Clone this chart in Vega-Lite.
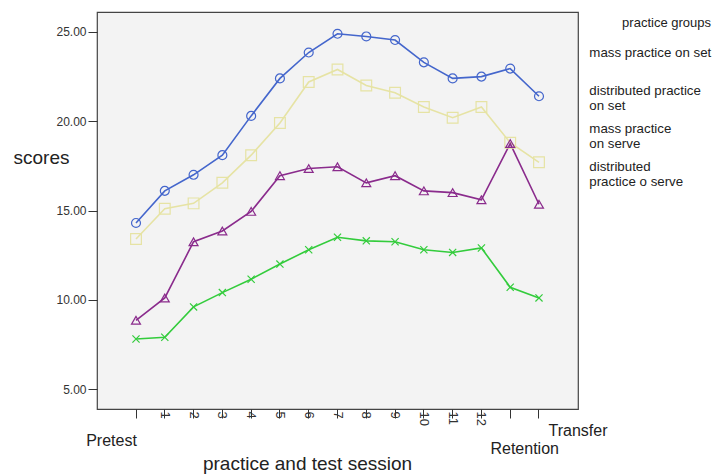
{
  "$schema": "https://vega.github.io/schema/vega-lite/v6.json",
  "width": 481,
  "height": 397,
  "autosize": {"type": "none"},
  "padding": {"left": 97, "top": 12, "right": 135, "bottom": 65},
  "background": "white",
  "config": {
    "font": "Liberation Sans",
    "view": {"fill": "#f3f3f3", "stroke": "#444444", "strokeWidth": 1.2}
  },
  "layer": [
    {
      "data": {
        "values": [
          {"session": "Pretest", "mass practice on set": 14.3, "distributed practice on set": 13.4, "mass practice on serve": 8.85, "distributed practice o serve": 7.8},
          {"session": "1", "mass practice on set": 16.1, "distributed practice on set": 15.1, "mass practice on serve": 10.1, "distributed practice o serve": 7.9},
          {"session": "2", "mass practice on set": 17.0, "distributed practice on set": 15.4, "mass practice on serve": 13.25, "distributed practice o serve": 9.6},
          {"session": "3", "mass practice on set": 18.1, "distributed practice on set": 16.55, "mass practice on serve": 13.85, "distributed practice o serve": 10.4},
          {"session": "4", "mass practice on set": 20.3, "distributed practice on set": 18.1, "mass practice on serve": 14.95, "distributed practice o serve": 11.15},
          {"session": "5", "mass practice on set": 22.4, "distributed practice on set": 19.9, "mass practice on serve": 16.95, "distributed practice o serve": 12.0},
          {"session": "6", "mass practice on set": 23.85, "distributed practice on set": 22.2, "mass practice on serve": 17.35, "distributed practice o serve": 12.8},
          {"session": "7", "mass practice on set": 24.9, "distributed practice on set": 22.9, "mass practice on serve": 17.45, "distributed practice o serve": 13.5},
          {"session": "8", "mass practice on set": 24.75, "distributed practice on set": 22.0, "mass practice on serve": 16.55, "distributed practice o serve": 13.3},
          {"session": "9", "mass practice on set": 24.55, "distributed practice on set": 21.6, "mass practice on serve": 16.95, "distributed practice o serve": 13.25},
          {"session": "10", "mass practice on set": 23.3, "distributed practice on set": 20.8, "mass practice on serve": 16.1, "distributed practice o serve": 12.8},
          {"session": "11", "mass practice on set": 22.4, "distributed practice on set": 20.2, "mass practice on serve": 16.0, "distributed practice o serve": 12.65},
          {"session": "12", "mass practice on set": 22.5, "distributed practice on set": 20.8, "mass practice on serve": 15.6, "distributed practice o serve": 12.9},
          {"session": "Retention", "mass practice on set": 22.95, "distributed practice on set": 18.8, "mass practice on serve": 18.75, "distributed practice o serve": 10.7},
          {"session": "Transfer", "mass practice on set": 21.4, "distributed practice on set": 17.7, "mass practice on serve": 15.35, "distributed practice o serve": 10.1}
        ]
      },
      "transform": [
        {"fold": ["mass practice on set", "distributed practice on set", "mass practice on serve", "distributed practice o serve"], "as": ["group", "score"]}
      ],
      "encoding": {
        "x": {
          "field": "session",
          "type": "ordinal",
          "bandPosition": 0.5,
          "scale": {"type": "band", "paddingInner": 0, "paddingOuter": 0.855, "domain": ["Pretest", "1", "2", "3", "4", "5", "6", "7", "8", "9", "10", "11", "12", "Retention", "Transfer"]},
          "axis": {
            "title": "practice and test session",
            "titleX": 210,
            "titleY": 54,
            "titleAlign": "center",
            "titleBaseline": "middle",
            "titleFontSize": 19,
            "titleFontWeight": "normal",
            "titleColor": "#222222",
            "labelAngle": 90,
            "labelAlign": "left",
            "labelBaseline": "middle",
            "labelFontSize": 13,
            "labelColor": "#333333",
            "labelPadding": -7,
            "tickSize": 9,
            "tickColor": "#333333",
            "tickBand": "center",
            "domain": false,
            "grid": false,
            "labelExpr": "indexof(['Pretest','Retention','Transfer'], datum.value) >= 0 ? '' : datum.value"
          }
        },
        "y": {
          "field": "score",
          "type": "quantitative",
          "scale": {"domain": [3.88, 26.12], "nice": false, "zero": false},
          "axis": {
            "values": [5, 10, 15, 20, 25],
            "format": ".2f",
            "title": "scores",
            "titleAngle": 0,
            "titleX": -56,
            "titleY": 145,
            "titleAlign": "center",
            "titleBaseline": "middle",
            "titleFontSize": 19,
            "titleFontWeight": "normal",
            "titleColor": "#222222",
            "labelFontSize": 12,
            "labelColor": "#333333",
            "labelPadding": 2,
            "tickSize": 9,
            "tickColor": "#333333",
            "domain": false,
            "grid": false
          }
        },
        "color": {
          "field": "group",
          "type": "nominal",
          "scale": {
            "domain": ["mass practice on set", "distributed practice on set", "mass practice on serve", "distributed practice o serve"],
            "range": ["#4466cc", "#e6e3a4", "#8a2b8c", "#33cc3c"]
          },
          "legend": {
            "orient": "none",
            "legendX": 479,
            "legendY": 5,
            "title": "practice groups",
            "titleFontSize": 13,
            "titleFontWeight": "normal",
            "titleColor": "#222222",
            "titleAnchor": "end",
            "titlePadding": 16,
            "labelFontSize": 13.3,
            "labelColor": "#222222",
            "labelLimit": 300,
            "symbolOpacity": 0,
            "symbolSize": 0,
            "symbolStrokeWidth": 0,
            "labelOffset": 0,
            "rowPadding": 8,
            "labelExpr": "datum.label == 'mass practice on set' ? ['mass practice on set', ''] : datum.label == 'distributed practice on set' ? ['distributed practice', 'on set'] : datum.label == 'mass practice on serve' ? ['\u00a0mass practice', '\u00a0on serve'] : datum.label == 'distributed practice o serve' ? ['distributed', 'practice o serve'] : datum.label"
          }
        }
      },
      "layer": [
        {"mark": {"type": "line", "strokeWidth": 1.6}},
        {
          "mark": {"type": "point", "filled": false, "strokeWidth": 1.2, "opacity": 1, "size": 80},
          "encoding": {
            "shape": {
              "field": "group",
              "type": "nominal",
              "scale": {
                "domain": ["mass practice on set", "distributed practice on set", "mass practice on serve", "distributed practice o serve"],
                "range": ["circle", "M-1.2,-1.2H1.2V1.2H-1.2Z", "triangle-up", "M-0.8,-0.8L0.8,0.8M-0.8,0.8L0.8,-0.8"]
              },
              "legend": null
            }
          }
        }
      ]
    },
    {
      "data": {"values": [{"session": "Pretest", "label": "Pretest"}]},
      "mark": {"type": "text", "dx": -24.5, "dy": 32, "fontSize": 16, "color": "#222222", "align": "center", "baseline": "middle"},
      "encoding": {
        "x": {"field": "session", "type": "ordinal", "bandPosition": 0.5, "scale": {"type": "band", "paddingInner": 0, "paddingOuter": 0.855, "domain": ["Pretest", "1", "2", "3", "4", "5", "6", "7", "8", "9", "10", "11", "12", "Retention", "Transfer"]}},
        "y": {"datum": 3.88},
        "text": {"field": "label"}
      }
    },
    {
      "data": {"values": [{"session": "Retention", "label": "Retention"}]},
      "mark": {"type": "text", "dx": 14.5, "dy": 40, "fontSize": 16, "color": "#222222", "align": "center", "baseline": "middle"},
      "encoding": {
        "x": {"field": "session", "type": "ordinal", "bandPosition": 0.5, "scale": {"type": "band", "paddingInner": 0, "paddingOuter": 0.855, "domain": ["Pretest", "1", "2", "3", "4", "5", "6", "7", "8", "9", "10", "11", "12", "Retention", "Transfer"]}},
        "y": {"datum": 3.88},
        "text": {"field": "label"}
      }
    },
    {
      "data": {"values": [{"session": "Transfer", "label": "Transfer"}]},
      "mark": {"type": "text", "dx": 39, "dy": 22, "fontSize": 16, "color": "#222222", "align": "center", "baseline": "middle"},
      "encoding": {
        "x": {"field": "session", "type": "ordinal", "bandPosition": 0.5, "scale": {"type": "band", "paddingInner": 0, "paddingOuter": 0.855, "domain": ["Pretest", "1", "2", "3", "4", "5", "6", "7", "8", "9", "10", "11", "12", "Retention", "Transfer"]}},
        "y": {"datum": 3.88},
        "text": {"field": "label"}
      }
    }
  ]
}
